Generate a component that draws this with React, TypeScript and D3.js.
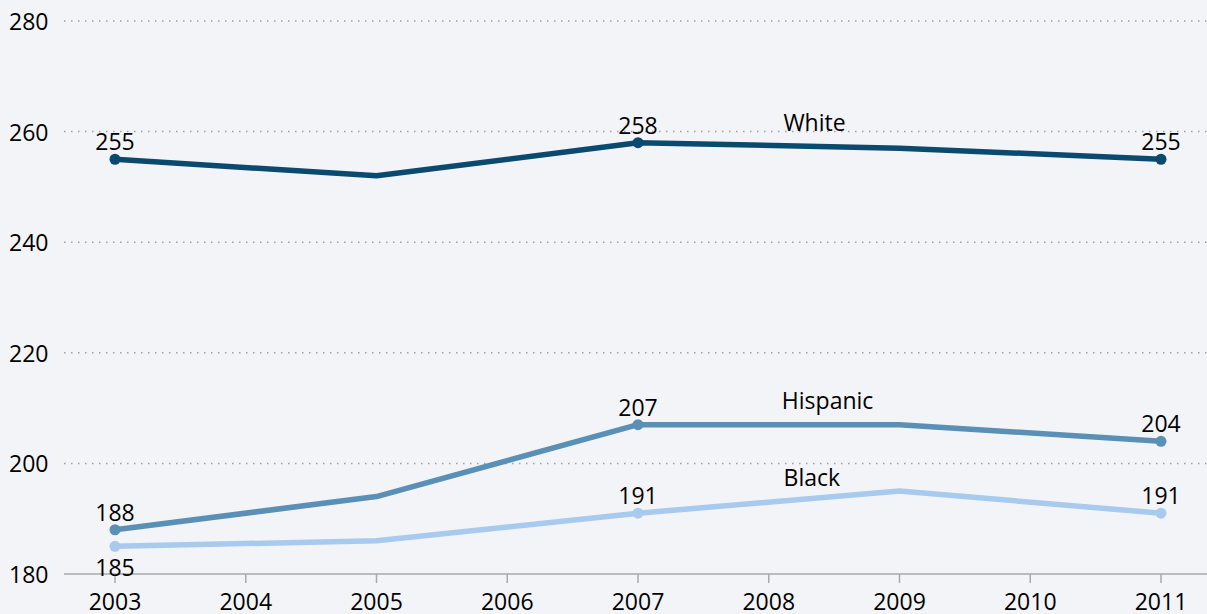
import React from "react";
import * as d3 from "d3";

const years = [2003, 2004, 2005, 2006, 2007, 2008, 2009, 2010, 2011];
const yTicks = [180, 200, 220, 240, 260, 280];
const seriesNames = ["White", "Hispanic", "Black"];
const seriesYears = [2003, 2005, 2007, 2009, 2011];
const whiteValues = [255, 252, 258, 257, 255];
const hispanicValues = [188, 194, 207, 207, 204];
const blackValues = [185, 186, 191, 195, 191];
const labeledYears = [2003, 2007, 2011];
const colors = ["#0b4a6f", "#5a8fb6", "#a7caee"];

const W = 1207, H = 614;

export default function App() {
  const x = d3.scaleLinear().domain([2003, 2011]).range([115, 1161]);
  const y = d3.scaleLinear().domain([180, 280]).range([574, 21]);
  const values = [whiteValues, hispanicValues, blackValues];
  const line = d3.line<[number, number]>().x(d => x(d[0])).y(d => y(d[1]));
  const nameLabelPos: Record<string, [number, number]> = {
    White: [2009 - 0.65, 260.1],
    Hispanic: [2009 - 0.55, 209.8],
    Black: [2009 - 0.67, 195.9],
  };
  const font = "'Open Sans', 'Noto Sans', sans-serif";
  const fs = 23;
  return (
    <svg width={W} height={H} style={{ position: "absolute", left: 0, top: 0, background: "#f3f4f7" }}>
      <rect width={W} height={H} fill="#f3f4f7" />
      {yTicks.map(t => (
        <g key={t}>
          {t !== 180 && (
            <line x1={64} x2={W} y1={y(t)} y2={y(t)} stroke="#a0a0a0" strokeWidth={1.5} strokeDasharray="1.5,5.5" />
          )}
          <text x={9} y={y(t) + 9} fontFamily={font} fontSize={fs} fill="#000">{t}</text>
        </g>
      ))}
      <line x1={64} x2={W} y1={y(180)} y2={y(180)} stroke="#a8a8a8" strokeWidth={1.5} />
      {years.map(yr => (
        <g key={yr}>
          <line x1={x(yr)} x2={x(yr)} y1={y(180)} y2={y(180) + 9} stroke="#a8a8a8" strokeWidth={1.5} />
          <text x={x(yr)} y={610} textAnchor="middle" fontFamily={font} fontSize={fs} fill="#000">{yr}</text>
        </g>
      ))}
      {values.map((vals, i) => {
        const pts: [number, number][] = seriesYears.map((yr, j) => [yr, vals[j]]);
        return (
          <g key={seriesNames[i]}>
            <path d={line(pts) || ""} fill="none" stroke={colors[i]} strokeWidth={5.5} strokeLinejoin="round" />
            {pts.filter(p => labeledYears.includes(p[0])).map(p => {
              const below = seriesNames[i] === "Black" && p[0] === 2003;
              return (
                <g key={p[0]}>
                  <circle cx={x(p[0])} cy={y(p[1])} r={5.5} fill={colors[i]} />
                  <text x={x(p[0])} y={below ? y(p[1]) + 30 : y(p[1]) - 9} textAnchor="middle" fontFamily={font} fontSize={fs} fill="#000">{p[1]}</text>
                </g>
              );
            })}
            <text x={x(nameLabelPos[seriesNames[i]][0])} y={y(nameLabelPos[seriesNames[i]][1])} textAnchor="middle" fontFamily={font} fontSize={fs} fill="#000">{seriesNames[i]}</text>
          </g>
        );
      })}
    </svg>
  );
}
